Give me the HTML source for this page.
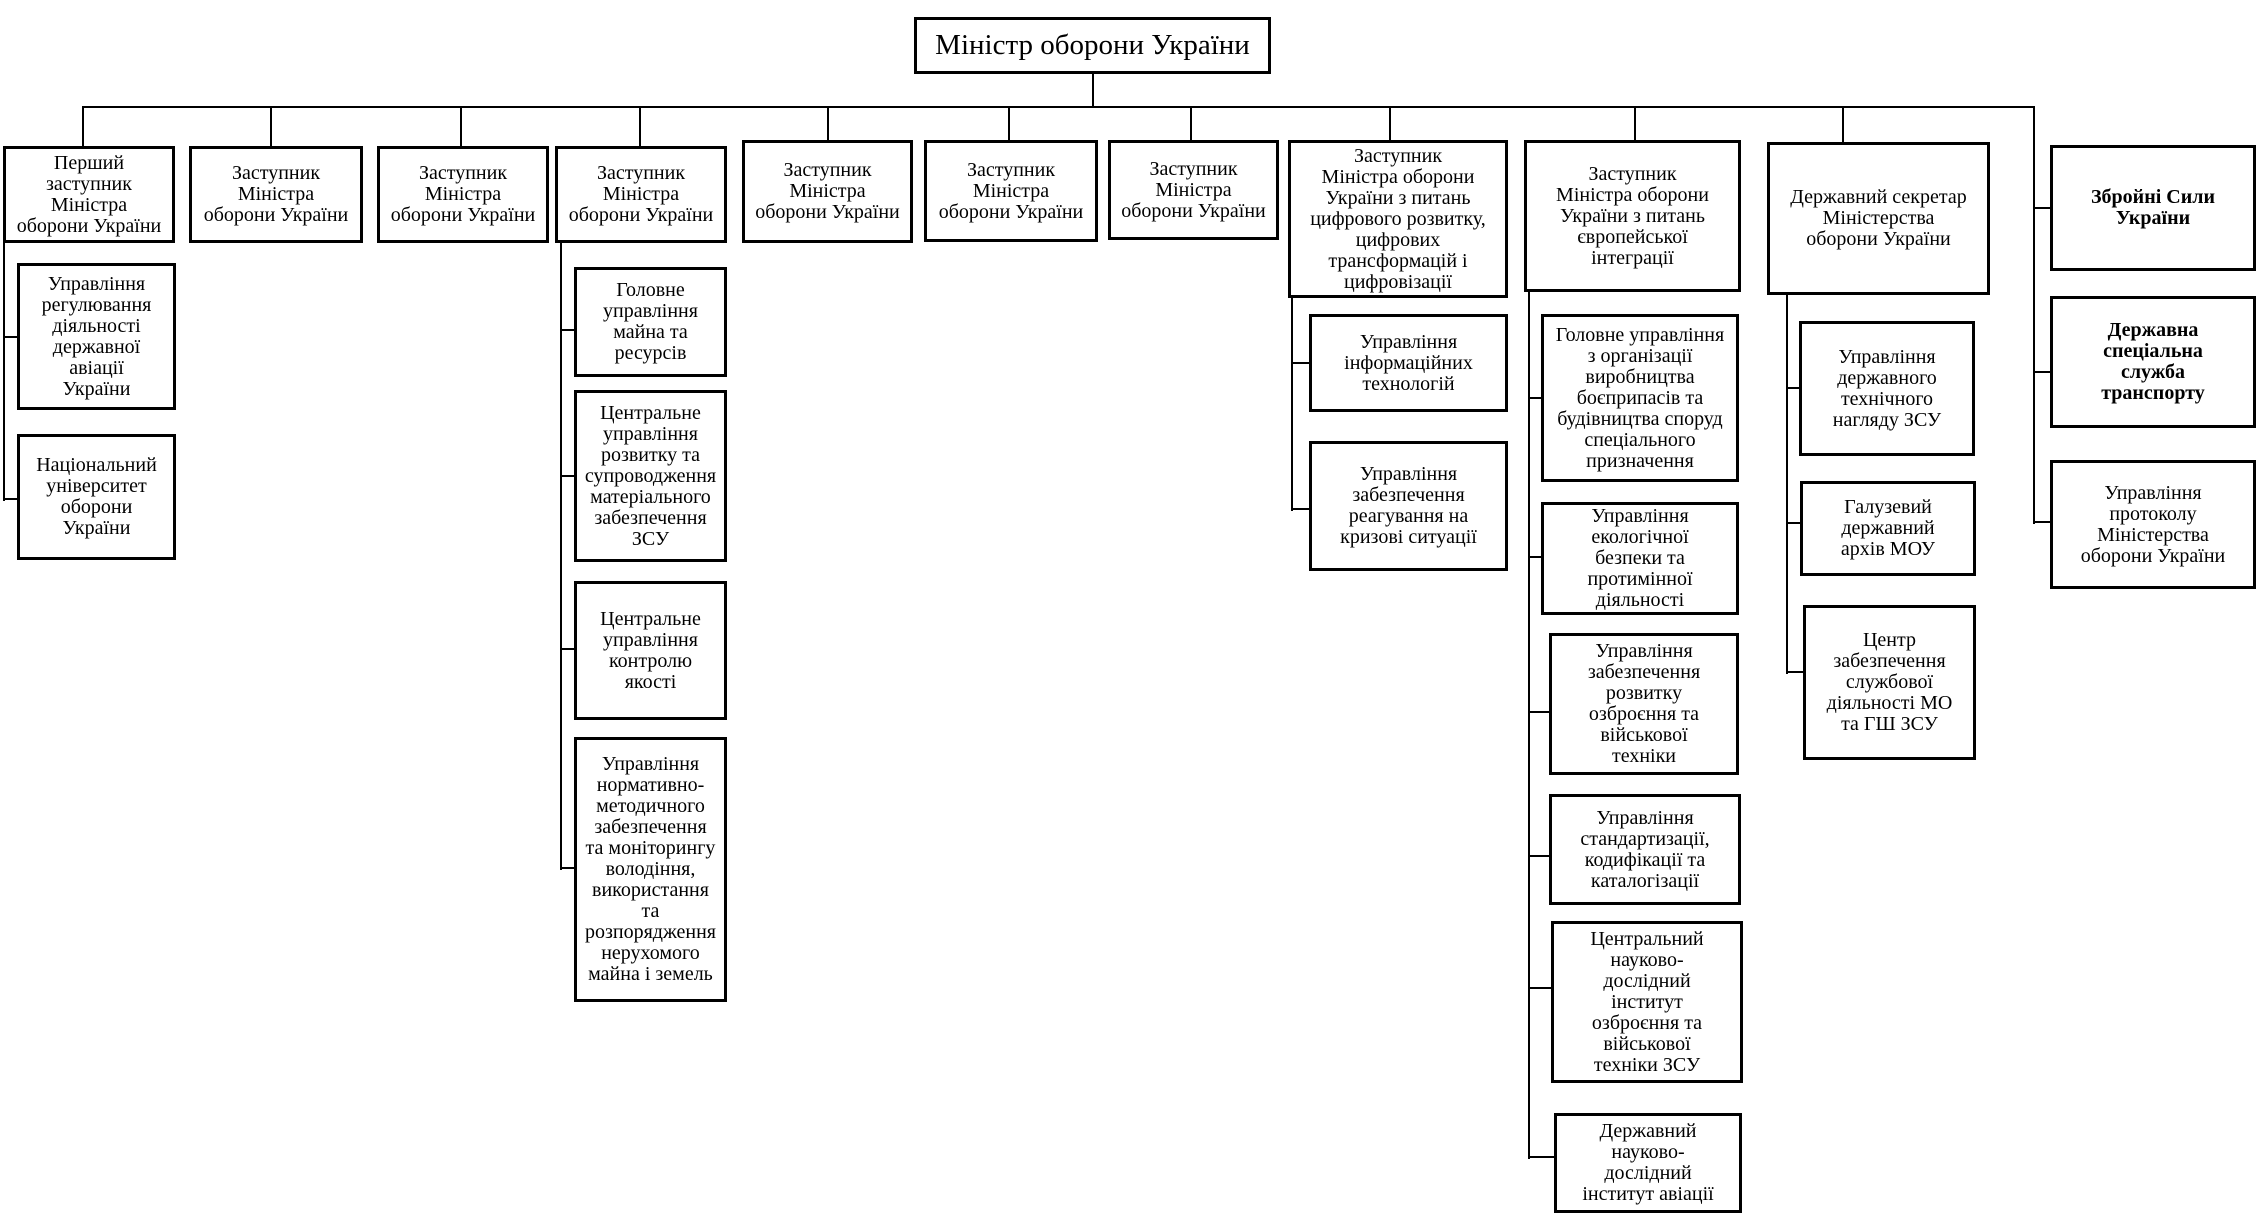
<!DOCTYPE html>
<html><head><meta charset="utf-8"><style>
body{margin:0;background:#fff;}
#c{position:relative;width:2267px;height:1222px;overflow:hidden;background:#fff;font-family:"Liberation Serif",serif;color:#000;}
.b{position:absolute;border:3px solid #000;box-sizing:border-box;display:flex;align-items:center;justify-content:center;text-align:center;font-size:20px;line-height:21px;white-space:nowrap;letter-spacing:0px;}
.bd{font-weight:bold;}
.h{position:absolute;height:2px;background:#000;}
.v{position:absolute;width:2px;background:#000;}
</style></head><body><div id="c">
<div class="b" style="left:914px;top:17px;width:357px;height:57px;font-size:29px;">Міністр оборони України</div>
<div class="v" style="left:1092px;top:74px;height:34px"></div>
<div class="h" style="left:82px;top:106px;width:1953px"></div>

<div class="v" style="left:82px;top:106px;height:40px"></div>
<div class="v" style="left:270px;top:106px;height:40px"></div>
<div class="v" style="left:460px;top:106px;height:40px"></div>
<div class="v" style="left:639px;top:106px;height:40px"></div>
<div class="v" style="left:827px;top:106px;height:34px"></div>
<div class="v" style="left:1008px;top:106px;height:34px"></div>
<div class="v" style="left:1190px;top:106px;height:34px"></div>
<div class="v" style="left:1389px;top:106px;height:34px"></div>
<div class="v" style="left:1634px;top:106px;height:34px"></div>
<div class="v" style="left:1842px;top:106px;height:36px"></div>

<div class="b" style="left:3px;top:146px;width:172px;height:97px">Перший<br>заступник<br>Міністра<br>оборони України</div>
<div class="b" style="left:189px;top:146px;width:174px;height:97px">Заступник<br>Міністра<br>оборони України</div>
<div class="b" style="left:377px;top:146px;width:172px;height:97px">Заступник<br>Міністра<br>оборони України</div>
<div class="b" style="left:555px;top:146px;width:172px;height:97px">Заступник<br>Міністра<br>оборони України</div>
<div class="b" style="left:742px;top:140px;width:171px;height:103px">Заступник<br>Міністра<br>оборони України</div>
<div class="b" style="left:924px;top:140px;width:174px;height:102px">Заступник<br>Міністра<br>оборони України</div>
<div class="b" style="left:1108px;top:140px;width:171px;height:100px">Заступник<br>Міністра<br>оборони України</div>
<div class="b" style="left:1288px;top:140px;width:220px;height:158px">Заступник<br>Міністра оборони<br>України з питань<br>цифрового розвитку,<br>цифрових<br>трансформацій і<br>цифровізації</div>
<div class="b" style="left:1524px;top:140px;width:217px;height:152px">Заступник<br>Міністра оборони<br>України з питань<br>європейської<br>інтеграції</div>
<div class="b" style="left:1767px;top:142px;width:223px;height:153px">Державний секретар<br>Міністерства<br>оборони України</div>

<div class="v" style="left:2033px;top:106px;height:418px"></div>
<div class="h" style="left:2033px;top:207px;width:17px"></div>
<div class="h" style="left:2033px;top:371px;width:17px"></div>
<div class="h" style="left:2033px;top:521px;width:17px"></div>
<div class="b bd" style="left:2050px;top:145px;width:206px;height:126px">Збройні Сили<br>України</div>
<div class="b bd" style="left:2050px;top:296px;width:206px;height:132px">Державна<br>спеціальна<br>служба<br>транспорту</div>
<div class="b" style="left:2050px;top:460px;width:206px;height:129px">Управління<br>протоколу<br>Міністерства<br>оборони України</div>

<div class="v" style="left:3px;top:243px;height:258px"></div>
<div class="h" style="left:3px;top:336px;width:14px"></div>
<div class="h" style="left:3px;top:498px;width:14px"></div>
<div class="b" style="left:17px;top:263px;width:159px;height:147px">Управління<br>регулювання<br>діяльності<br>державної<br>авіації<br>України</div>
<div class="b" style="left:17px;top:434px;width:159px;height:126px">Національний<br>університет<br>оборони<br>України</div>

<div class="v" style="left:560px;top:243px;height:627px"></div>
<div class="h" style="left:560px;top:329px;width:14px"></div>
<div class="h" style="left:560px;top:475px;width:14px"></div>
<div class="h" style="left:560px;top:648px;width:14px"></div>
<div class="h" style="left:560px;top:867px;width:14px"></div>
<div class="b" style="left:574px;top:267px;width:153px;height:110px">Головне<br>управління<br>майна та<br>ресурсів</div>
<div class="b" style="left:574px;top:390px;width:153px;height:172px">Центральне<br>управління<br>розвитку та<br>супроводження<br>матеріального<br>забезпечення<br>ЗСУ</div>
<div class="b" style="left:574px;top:581px;width:153px;height:139px">Центральне<br>управління<br>контролю<br>якості</div>
<div class="b" style="left:574px;top:737px;width:153px;height:265px">Управління<br>нормативно-<br>методичного<br>забезпечення<br>та моніторингу<br>володіння,<br>використання<br>та<br>розпорядження<br>нерухомого<br>майна і земель</div>

<div class="v" style="left:1291px;top:298px;height:213px"></div>
<div class="h" style="left:1291px;top:362px;width:18px"></div>
<div class="h" style="left:1291px;top:508px;width:18px"></div>
<div class="b" style="left:1309px;top:314px;width:199px;height:98px">Управління<br>інформаційних<br>технологій</div>
<div class="b" style="left:1309px;top:441px;width:199px;height:130px">Управління<br>забезпечення<br>реагування на<br>кризові ситуації</div>

<div class="v" style="left:1528px;top:292px;height:867px"></div>
<div class="h" style="left:1528px;top:397px;width:14px"></div>
<div class="h" style="left:1528px;top:556px;width:14px"></div>
<div class="h" style="left:1528px;top:711px;width:21px"></div>
<div class="h" style="left:1528px;top:855px;width:21px"></div>
<div class="h" style="left:1528px;top:987px;width:23px"></div>
<div class="h" style="left:1528px;top:1156px;width:26px"></div>
<div class="b" style="left:1541px;top:314px;width:198px;height:168px">Головне управління<br>з організації<br>виробництва<br>боєприпасів та<br>будівництва споруд<br>спеціального<br>призначення</div>
<div class="b" style="left:1541px;top:502px;width:198px;height:113px">Управління<br>екологічної<br>безпеки та<br>протимінної<br>діяльності</div>
<div class="b" style="left:1549px;top:633px;width:190px;height:142px">Управління<br>забезпечення<br>розвитку<br>озброєння та<br>військової<br>техніки</div>
<div class="b" style="left:1549px;top:794px;width:192px;height:111px">Управління<br>стандартизації,<br>кодифікації та<br>каталогізації</div>
<div class="b" style="left:1551px;top:921px;width:192px;height:162px">Центральний<br>науково-<br>дослідний<br>інститут<br>озброєння та<br>військової<br>техніки ЗСУ</div>
<div class="b" style="left:1554px;top:1113px;width:188px;height:100px">Державний<br>науково-<br>дослідний<br>інститут авіації</div>

<div class="v" style="left:1786px;top:295px;height:379px"></div>
<div class="h" style="left:1786px;top:387px;width:13px"></div>
<div class="h" style="left:1786px;top:522px;width:14px"></div>
<div class="h" style="left:1786px;top:671px;width:17px"></div>
<div class="b" style="left:1799px;top:321px;width:176px;height:135px">Управління<br>державного<br>технічного<br>нагляду ЗСУ</div>
<div class="b" style="left:1800px;top:481px;width:176px;height:95px">Галузевий<br>державний<br>архів МОУ</div>
<div class="b" style="left:1803px;top:605px;width:173px;height:155px">Центр<br>забезпечення<br>службової<br>діяльності МО<br>та ГШ ЗСУ</div>
</div></body></html>
